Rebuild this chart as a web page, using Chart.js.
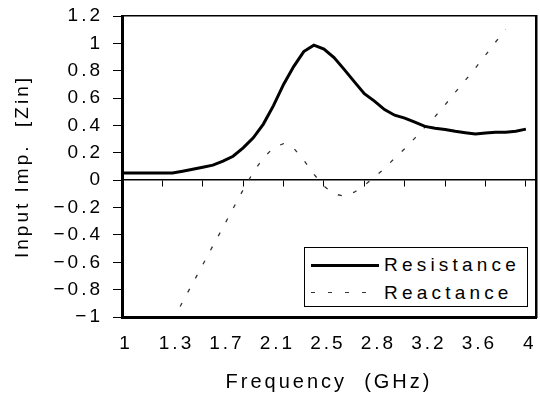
<!DOCTYPE html>
<html>
<head>
<meta charset="utf-8">
<script src="https://cdn.jsdelivr.net/npm/chart.js@4.4.1/dist/chart.umd.min.js"></script>
<style>
  body { margin: 0; background: #fff; }
  #wrap { position: relative; width: 540px; height: 402px; }
  #legend {
    position: absolute; left: 304px; top: 247px; width: 222px; height: 58px;
    border: 1px solid #000; background: #fff;
    font: 19px "Liberation Sans", Arial, sans-serif; letter-spacing: 4.2px; color: #000;
  }
  .row { position: absolute; left: 0; width: 100%; height: 24px; }
  .row span.txt { position: absolute; left: 79px; top: 1px; line-height: 22px; }
  .swatch { position: absolute; left: 6px; width: 68px; top: 11px; }
  .solid { height: 3px; background: #000; }
  .dotted { height: 1px; background: repeating-linear-gradient(to right, #333 0 4px, transparent 4px 17px); }
</style>
</head>
<body>
<div id="wrap">
  <canvas id="chart" width="540" height="402"></canvas>
  <div id="legend">
    <div class="row" style="top:5px"><div class="swatch solid"></div><span class="txt">Resistance</span></div>
    <div class="row" style="top:33px"><div class="swatch dotted"></div><span class="txt">Reactance</span></div>
  </div>
</div>
<script>
// frequency points (GHz)
const freq = [1, 1.075, 1.15, 1.225, 1.3, 1.375, 1.45, 1.525, 1.6, 1.675,
  1.75, 1.825, 1.9, 1.975, 2.05, 2.125, 2.2, 2.275, 2.35, 2.425,
  2.5, 2.575, 2.65, 2.725, 2.8, 2.875, 2.95, 3.025, 3.1, 3.175,
  3.25, 3.325, 3.4, 3.475, 3.55, 3.625, 3.7, 3.775, 3.85, 3.925, 4];

const resistance = [0.053, 0.053, 0.053, 0.053, 0.053, 0.053, 0.066, 0.08, 0.095, 0.11,
  0.14, 0.175, 0.236, 0.31, 0.41, 0.545, 0.70, 0.83, 0.94, 0.987,
  0.958, 0.896, 0.81, 0.72, 0.632, 0.578, 0.516, 0.475, 0.454, 0.424,
  0.393, 0.38, 0.371, 0.358, 0.347, 0.337, 0.345, 0.351, 0.351, 0.358, 0.373];

const reactance = [null, null, null, null, null, -1.026, -0.89, -0.754, -0.618, -0.48,
  -0.345, -0.207, -0.07, 0.058, 0.162, 0.238, 0.267, 0.234, 0.146, 0.044,
  -0.044, -0.10, -0.117, -0.088, -0.037, 0.022, 0.086, 0.161, 0.23, 0.307,
  0.388, 0.465, 0.551, 0.642, 0.73, 0.82, 0.914, 1.01, 1.10, null, null];

const xTickValues = [1, 1.375, 1.75, 2.125, 2.5, 2.875, 3.25, 3.625, 4];
const xTickLabels = ["1", "1.3", "1.7", "2.1", "2.5", "2.8", "3.2", "3.6", "4"];
const zeroTickValues = [1, 1.3, 1.6, 1.9, 2.2, 2.5, 2.8, 3.1, 3.4, 3.7, 4];
const yTickValues = [-1, -0.8, -0.6, -0.4, -0.2, 0, 0.2, 0.4, 0.6, 0.8, 1, 1.2];
const yTickLabels = ["\u22121", "\u22120.8", "\u22120.6", "\u22120.4", "\u22120.2", "0",
  "0.2", "0.4", "0.6", "0.8", "1", "1.2"];

Chart.defaults.font.family = '"Liberation Sans", Arial, sans-serif';
Chart.defaults.font.size = 19;
Chart.defaults.color = "#000";

const spacing = {
  id: "spacing",
  beforeLayout(chart) { chart.ctx.letterSpacing = "3px"; },
  beforeDraw(chart) { chart.ctx.letterSpacing = "3px"; },
};

const setTicks = values => scale => { scale.ticks = values.map(v => ({ value: v })); };
// fixed box sizes, no label overhang padding
const fixSize = (w, h) => s => {
  if (w !== null) s.width = w;
  if (h !== null) s.height = h;
  s.paddingLeft = s.paddingRight = s.paddingTop = s.paddingBottom = 0;
};
const X_MIN = 1, X_MAX = 4.075;

new Chart(document.getElementById("chart"), {
  type: "line",
  data: {
    datasets: [
      {
        label: "Resistance",
        data: freq.map((f, i) => ({ x: f, y: resistance[i] })),
        borderColor: "#000",
        borderWidth: 3,
        pointRadius: 0,
        tension: 0,
        xAxisID: "x",
        yAxisID: "y",
      },
      {
        label: "Reactance",
        data: freq.map((f, i) => ({ x: f, y: reactance[i] })),
        borderColor: "#333",
        borderWidth: 1.3,
        borderDash: [4, 12],
        pointRadius: 0,
        tension: 0,
        xAxisID: "x",
        yAxisID: "y",
      },
    ],
  },
  options: {
    responsive: false,
    animation: false,
    devicePixelRatio: 1,
    layout: { padding: { top: 16, right: 4, left: 0, bottom: 0 } },
    plugins: { legend: { display: false }, tooltip: { enabled: false } },
    scales: {
      x: {
        type: "linear", position: "bottom", min: X_MIN, max: X_MAX,
        afterBuildTicks: setTicks(xTickValues),
        afterFit: fixSize(null, 85),
        grid: { display: false, drawTicks: false },
        border: { display: true, width: 3, color: "#000" },
        ticks: { padding: 15, labelOffset: 4, maxRotation: 0, autoSkip: false, callback: (v, i) => xTickLabels[i] },
        title: { display: true, text: "Frequency  (GHz)", font: { size: 20 }, padding: { top: 0, bottom: 8 } },
      },
      xZero: {
        type: "linear", position: { y: 0 }, min: X_MIN, max: X_MAX,
        afterBuildTicks: setTicks(zeroTickValues),
        afterFit: fixSize(null, 0),
        grid: { display: true, drawOnChartArea: false, drawTicks: true, tickLength: 6, color: "#000", lineWidth: 1 },
        border: { display: true, width: 1.5, color: "#000" },
        ticks: { display: false },
      },
      xTop: {
        type: "linear", position: "top", min: X_MIN, max: X_MAX,
        afterFit: fixSize(null, 0),
        grid: { display: false, drawTicks: false },
        border: { display: true, width: 1.5, color: "#000" },
        ticks: { display: false },
      },
      y: {
        position: "left", min: -1, max: 1.2,
        afterBuildTicks: setTicks(yTickValues),
        afterFit: fixSize(122, null),
        grid: { display: true, drawOnChartArea: false, drawTicks: true, tickLength: 9, color: "#000", lineWidth: 1 },
        border: { display: true, width: 3, color: "#000" },
        ticks: { padding: 10, callback: (v, i) => yTickLabels[i] },
        title: { display: true, text: "Input Imp.  [Zin]", padding: { top: 11, bottom: 0 } },
      },
      yRight: {
        position: "right", min: -1, max: 1.2,
        afterFit: fixSize(0, null),
        grid: { display: false, drawTicks: false },
        border: { display: true, width: 2.5, color: "#000" },
        ticks: { display: false },
      },
    },
  },
  plugins: [spacing],
});
</script>
</body>
</html>
